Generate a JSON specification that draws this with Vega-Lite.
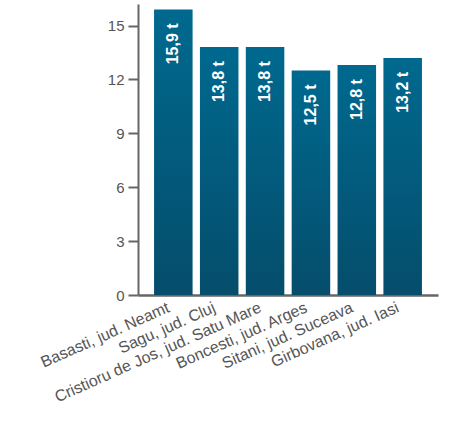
{
  "$schema": "https://vega.github.io/schema/vega-lite/v6.json",
  "width": 300,
  "height": 291,
  "autosize": "none",
  "padding": {"left": 138, "top": 4, "right": 15, "bottom": 128},
  "background": "white",
  "data": {
    "values": [
      {"name": "Basasti, jud. Neamt", "value": 15.9, "label": "15,9 t"},
      {"name": "Sagu, jud. Cluj", "value": 13.8, "label": "13,8 t"},
      {"name": "Cristioru de Jos, jud. Satu Mare", "value": 13.8, "label": "13,8 t"},
      {"name": "Boncesti, jud. Arges", "value": 12.5, "label": "12,5 t"},
      {"name": "Sitani, jud. Suceava", "value": 12.8, "label": "12,8 t"},
      {"name": "Girbovana, jud. Iasi", "value": 13.2, "label": "13,2 t"}
    ]
  },
  "encoding": {
    "x": {
      "field": "name",
      "type": "nominal",
      "sort": null,
      "scale": {"paddingInner": 0.16, "paddingOuter": 0.35},
      "axis": {
        "title": null,
        "labelAngle": -24,
        "labelAlign": "right",
        "labelBaseline": "top",
        "labelFontSize": 16,
        "labelColor": "#555555",
        "labelFont": "Liberation Sans",
        "labelOffset": -8,
        "labelPadding": 4,
        "ticks": false,
        "domainColor": "#666666",
        "domainWidth": 2.5,
        "labelLimit": 400,
        "labelOverlap": false
      }
    },
    "y": {
      "field": "value",
      "type": "quantitative",
      "scale": {"domain": [0, 16.2], "nice": false},
      "axis": {
        "title": null,
        "values": [0, 3, 6, 9, 12, 15],
        "grid": false,
        "labelFontSize": 15,
        "labelColor": "#555555",
        "labelFont": "Liberation Sans",
        "tickColor": "#666666",
        "tickWidth": 2,
        "tickSize": 10,
        "labelPadding": 4,
        "domainColor": "#666666",
        "domainWidth": 2
      }
    }
  },
  "layer": [
    {
      "mark": {
        "type": "bar",
        "color": {
          "gradient": "linear",
          "x1": 0, "y1": 0, "x2": 0, "y2": 1,
          "stops": [
            {"offset": 0, "color": "#00698f"},
            {"offset": 1, "color": "#054d6b"}
          ]
        }
      }
    },
    {
      "mark": {
        "type": "text",
        "angle": 270,
        "align": "right",
        "baseline": "middle",
        "dx": -14,
        "fontSize": 16,
        "fontWeight": "bold",
        "font": "Liberation Sans",
        "color": "white"
      },
      "encoding": {"text": {"field": "label"}}
    }
  ],
  "config": {"view": {"stroke": null}}
}
